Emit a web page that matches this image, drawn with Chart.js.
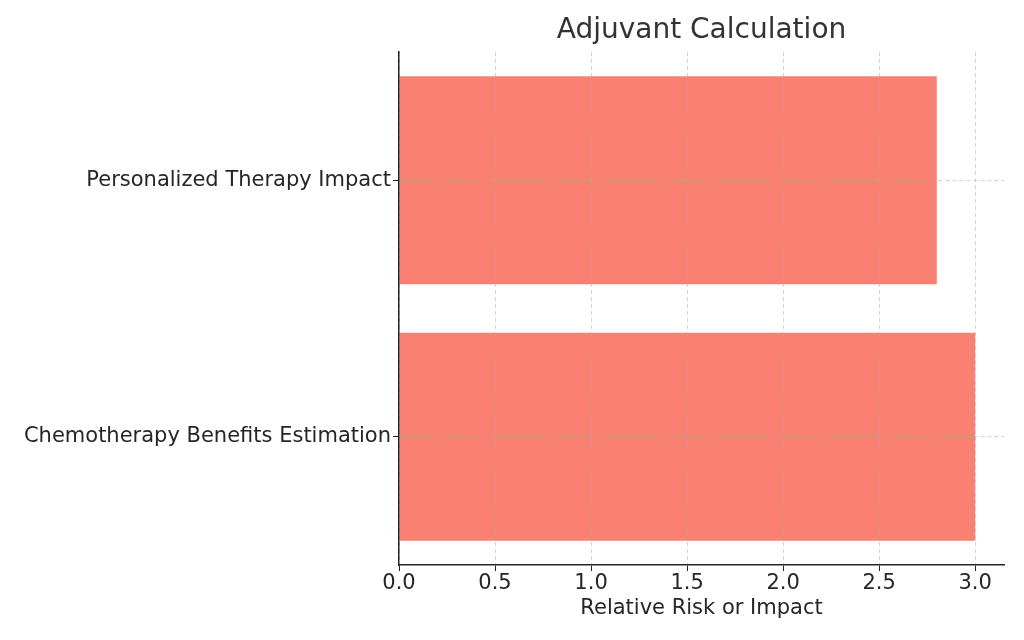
<!DOCTYPE html>
<html>
<head>
<meta charset="utf-8">
<script src="https://cdn.jsdelivr.net/npm/chart.js@4"></script>
<style>
  html, body { margin: 0; padding: 0; background: #fff; }
  #wrap { width: 1024px; height: 640px; }
</style>
</head>
<body>
<div id="wrap"><canvas id="adjuvant"></canvas></div>
<script>
var categories = ["Personalized Therapy Impact", "Chemotherapy Benefits Estimation"];
var values = [2.8, 3.0];
var xTicks = [0, 0.5, 1.0, 1.5, 2.0, 2.5, 3.0];

var font = "'DejaVu Sans', sans-serif";

// title centred over the plot area, like the original
var plotTitle = {
    id: 'plotTitle',
    afterDraw: function (chart) {
        var c = chart.ctx, a = chart.chartArea;
        c.save();
        c.fillStyle = '#333333';
        c.font = "28px " + font;
        c.textAlign = 'center';
        c.textBaseline = 'middle';
        c.fillText('Adjuvant Calculation', (a.left + a.right) / 2, 31);
        c.restore();
    }
};

var ctx = document.getElementById("adjuvant");

var chart = new Chart(ctx, {
    type: 'bar',
    data: {
        labels: categories,
        datasets: [{
            data: values,
            backgroundColor: '#FA8072',
            borderWidth: 0,
            categoryPercentage: 0.81,
            barPercentage: 1.0
        }]
    },
    options: {
        indexAxis: 'y',
        responsive: true,
        maintainAspectRatio: false,
        animation: false,
        layout: { padding: { top: 52, right: 20, bottom: 0, left: 0 } },
        plugins: {
            legend: { display: false },
            tooltip: { enabled: false },
            title: { display: false }
        },
        scales: {
            x: {
                min: 0,
                max: 3.15,
                afterBuildTicks: function (axis) {
                    axis.ticks = xTicks.map(function (v) { return { value: v }; });
                },
                afterFit: function (axis) { axis.height = 75; },
                ticks: {
                    color: '#262626',
                    font: { family: font, size: 21, lineHeight: 1 },
                    padding: 2,
                    callback: function (v) { return Number(v).toFixed(1); }
                },
                grid: {
                    color: 'rgba(170,170,170,0.5)',
                    tickColor: '#262626',
                    tickLength: 6,
                    tickWidth: 1,
                    z: 1
                },
                border: { display: true, color: '#262626', width: 1.5, dash: [4, 3], z: 2 },
                title: {
                    display: true,
                    text: 'Relative Risk or Impact',
                    color: '#262626',
                    font: { family: font, size: 21 },
                    padding: { top: 2, bottom: 19 }
                }
            },
            y: {
                afterFit: function (axis) { axis.width = 399; },
                ticks: {
                    color: '#262626',
                    font: { family: font, size: 21 },
                    padding: 2
                },
                grid: {
                    offset: false,
                    color: 'rgba(170,170,170,0.5)',
                    tickColor: '#262626',
                    tickLength: 6,
                    tickWidth: 1,
                    z: 1
                },
                border: { display: true, color: '#262626', width: 1.5, dash: [4, 3], z: 2 }
            }
        }
    },
    plugins: [plotTitle]
});
</script>
</body>
</html>
